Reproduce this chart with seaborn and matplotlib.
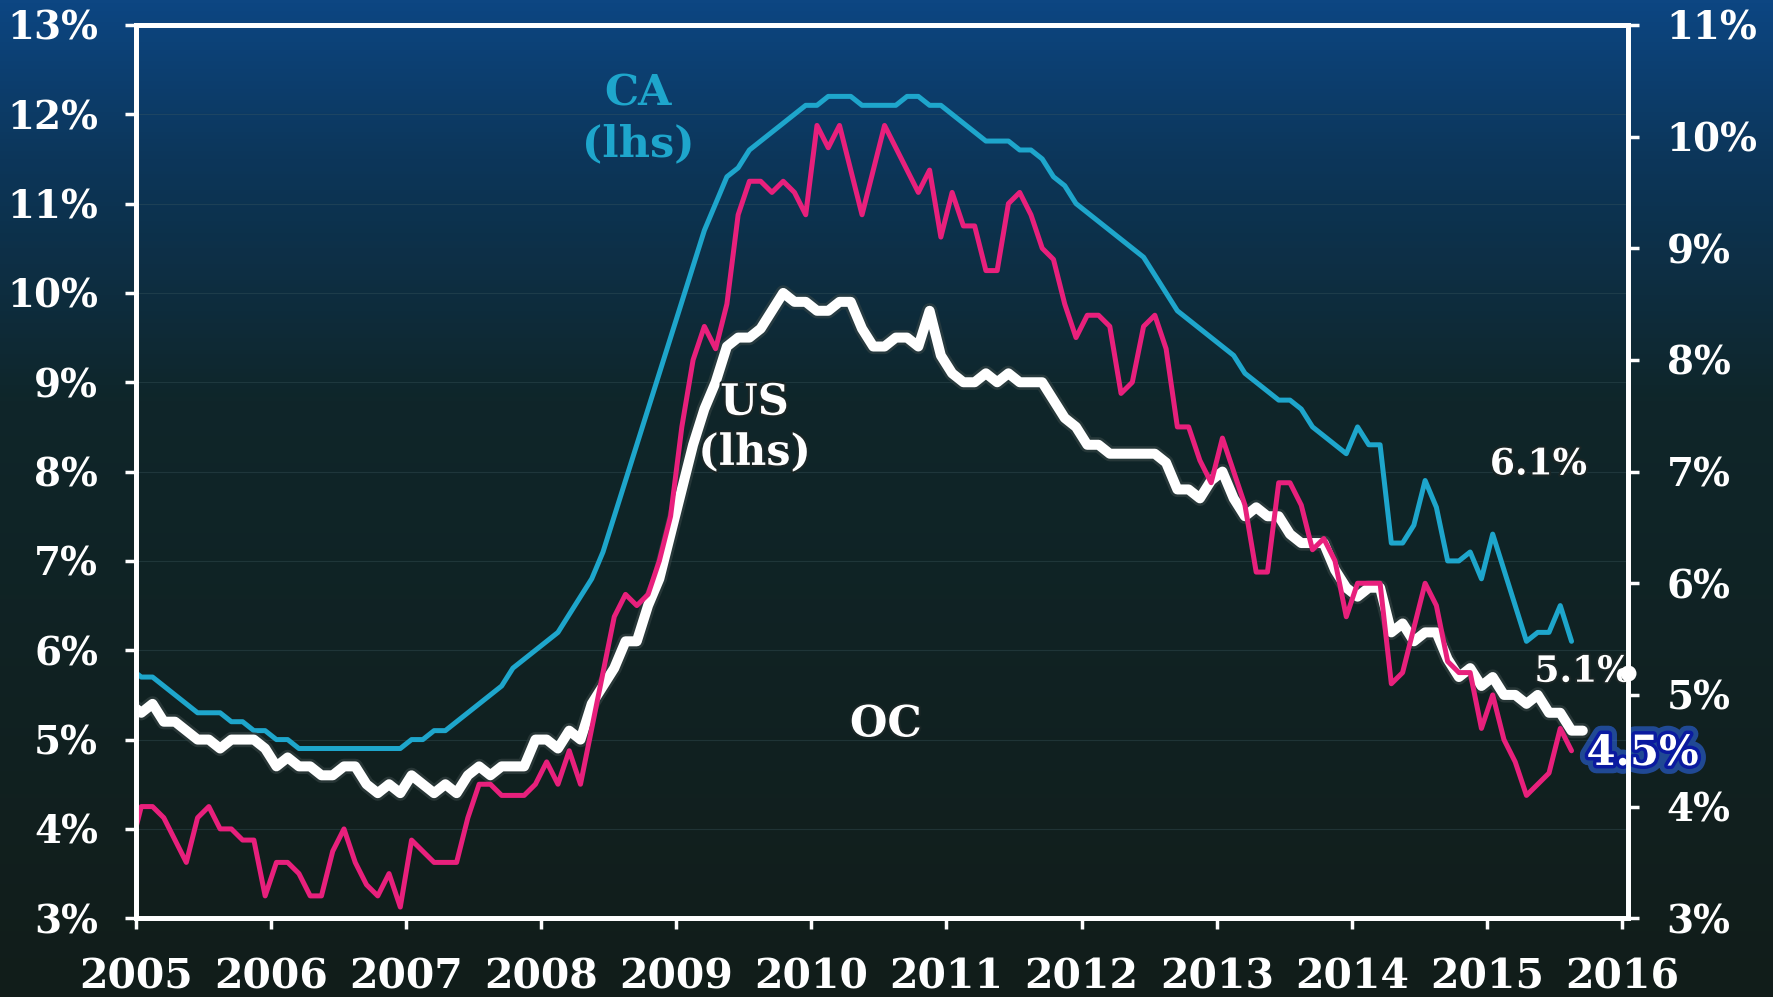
import numpy as np
import pandas as pd
import matplotlib
matplotlib.use("Agg")
import matplotlib.pyplot as plt
import matplotlib.patheffects as pe
from matplotlib.colors import LinearSegmentedColormap
import seaborn as sns

# monthly unemployment rates (%), first value is Dec 2004
ca_rate = [5.8,
    5.7, 5.7, 5.6, 5.5, 5.4, 5.3, 5.3, 5.3, 5.2, 5.2, 5.1, 5.1,
    5.0, 5.0, 4.9, 4.9, 4.9, 4.9, 4.9, 4.9, 4.9, 4.9, 4.9, 4.9,
    5.0, 5.0, 5.1, 5.1, 5.2, 5.3, 5.4, 5.5, 5.6, 5.8, 5.9, 6.0,
    6.1, 6.2, 6.4, 6.6, 6.8, 7.1, 7.5, 7.9, 8.3, 8.7, 9.1, 9.5,
    9.9, 10.3, 10.7, 11.0, 11.3, 11.4, 11.6, 11.7, 11.8, 11.9, 12.0, 12.1,
    12.1, 12.2, 12.2, 12.2, 12.1, 12.1, 12.1, 12.1, 12.2, 12.2, 12.1, 12.1,
    12.0, 11.9, 11.8, 11.7, 11.7, 11.7, 11.6, 11.6, 11.5, 11.3, 11.2, 11.0,
    10.9, 10.8, 10.7, 10.6, 10.5, 10.4, 10.2, 10.0, 9.8, 9.7, 9.6, 9.5,
    9.4, 9.3, 9.1, 9.0, 8.9, 8.8, 8.8, 8.7, 8.5, 8.4, 8.3, 8.2,
    8.5, 8.3, 8.3, 7.2, 7.2, 7.4, 7.9, 7.6, 7.0, 7.0, 7.1, 6.8,
    7.3, 6.9, 6.5, 6.1, 6.2, 6.2, 6.5, 6.1]

us_rate = [5.4,
    5.3, 5.4, 5.2, 5.2, 5.1, 5.0, 5.0, 4.9, 5.0, 5.0, 5.0, 4.9,
    4.7, 4.8, 4.7, 4.7, 4.6, 4.6, 4.7, 4.7, 4.5, 4.4, 4.5, 4.4,
    4.6, 4.5, 4.4, 4.5, 4.4, 4.6, 4.7, 4.6, 4.7, 4.7, 4.7, 5.0,
    5.0, 4.9, 5.1, 5.0, 5.4, 5.6, 5.8, 6.1, 6.1, 6.5, 6.8, 7.3,
    7.8, 8.3, 8.7, 9.0, 9.4, 9.5, 9.5, 9.6, 9.8, 10.0, 9.9, 9.9,
    9.8, 9.8, 9.9, 9.9, 9.6, 9.4, 9.4, 9.5, 9.5, 9.4, 9.8, 9.3,
    9.1, 9.0, 9.0, 9.1, 9.0, 9.1, 9.0, 9.0, 9.0, 8.8, 8.6, 8.5,
    8.3, 8.3, 8.2, 8.2, 8.2, 8.2, 8.2, 8.1, 7.8, 7.8, 7.7, 7.9,
    8.0, 7.7, 7.5, 7.6, 7.5, 7.5, 7.3, 7.2, 7.2, 7.2, 6.9, 6.7,
    6.6, 6.7, 6.7, 6.2, 6.3, 6.1, 6.2, 6.2, 5.9, 5.7, 5.8, 5.6,
    5.7, 5.5, 5.5, 5.4, 5.5, 5.3, 5.3, 5.1, 5.1]

oc_rate = [3.6,
    4.0, 4.0, 3.9, 3.7, 3.5, 3.9, 4.0, 3.8, 3.8, 3.7, 3.7, 3.2,
    3.5, 3.5, 3.4, 3.2, 3.2, 3.6, 3.8, 3.5, 3.3, 3.2, 3.4, 3.1,
    3.7, 3.6, 3.5, 3.5, 3.5, 3.9, 4.2, 4.2, 4.1, 4.1, 4.1, 4.2,
    4.4, 4.2, 4.5, 4.2, 4.7, 5.2, 5.7, 5.9, 5.8, 5.9, 6.2, 6.6,
    7.4, 8.0, 8.3, 8.1, 8.5, 9.3, 9.6, 9.6, 9.5, 9.6, 9.5, 9.3,
    10.1, 9.9, 10.1, 9.7, 9.3, 9.7, 10.1, 9.9, 9.7, 9.5, 9.7, 9.1,
    9.5, 9.2, 9.2, 8.8, 8.8, 9.4, 9.5, 9.3, 9.0, 8.9, 8.5, 8.2,
    8.4, 8.4, 8.3, 7.7, 7.8, 8.3, 8.4, 8.1, 7.4, 7.4, 7.1, 6.9,
    7.3, 7.0, 6.7, 6.1, 6.1, 6.9, 6.9, 6.7, 6.3, 6.4, 6.2, 5.7,
    6.0, 6.0, 6.0, 5.1, 5.2, 5.6, 6.0, 5.8, 5.3, 5.2, 5.2, 4.7,
    5.0, 4.6, 4.4, 4.1, 4.2, 4.3, 4.7, 4.5]

years = list(range(2005, 2017))
left_ticks = list(range(3, 14))
right_ticks = list(range(3, 12))

CA_COLOR = "#1ea6cc"
OC_COLOR = "#e8207c"
SERIF = "DejaVu Serif"


def monthly_frame(values):
    """Puts a monthly series (starting Dec 2004) on a mid-month decimal-year axis."""
    n = len(values)
    t = 2004 + 11.5 / 12 + np.arange(n) / 12
    return pd.DataFrame({"year": t, "rate": values})


def add_background(fig):
    """Blue-to-black slide gradient behind everything."""
    bg = fig.add_axes([0, 0, 1, 1], zorder=-10)
    cmap = LinearSegmentedColormap.from_list(
        "slide", [(0, "#0d4682"), (0.16, "#0c365a"), (0.40, "#0f262a"), (1, "#121d1a")])
    grad = np.linspace(0, 1, 256).reshape(-1, 1)
    bg.imshow(grad, aspect="auto", cmap=cmap, extent=[0, 1, 0, 1], origin="upper")
    bg.axis("off")


def style_axis(ax, side):
    for sp in ax.spines.values():
        sp.set_color("white")
        sp.set_linewidth(3.5)
    ax.tick_params(axis="y", colors="white", direction="out", length=8, width=2.5,
                   labelsize=28, pad=19 if side == "left" else 20)
    for lab in ax.get_yticklabels():
        lab.set_fontweight("bold")
        lab.set_fontfamily(SERIF)


def main():
    sns.set_theme(style="ticks")
    plt.rcParams["font.family"] = [SERIF, "DejaVu Sans"]

    fig = plt.figure(figsize=(17.73, 9.97), dpi=100)
    add_background(fig)

    ax = fig.add_axes([0.0765, 0.079, 0.8415, 0.896])
    ax.patch.set_alpha(0)
    ax2 = ax.twinx()
    ax2.patch.set_alpha(0)

    # faint horizontal rules
    for v in left_ticks[1:-1]:
        ax.axhline(v, color="#3d5a60", lw=0.8, alpha=0.35, zorder=0)

    ca = monthly_frame(ca_rate)
    us = monthly_frame(us_rate)
    oc = monthly_frame(oc_rate)

    sns.lineplot(data=ca, x="year", y="rate", ax=ax, color=CA_COLOR, linewidth=3.6)
    sns.lineplot(data=us, x="year", y="rate", ax=ax, color="white", linewidth=7.2,
                 solid_capstyle="round",
                 path_effects=[pe.Stroke(linewidth=11, foreground="#3a4848", alpha=0.55), pe.Normal()])
    sns.lineplot(data=oc, x="year", y="rate", ax=ax2, color=OC_COLOR, linewidth=3.6)

    ax.set_xlim(2005, 2016.04)
    ax.set_ylim(3, 13)
    ax2.set_ylim(3, 11)
    ax.set_xticks(years)
    ax.set_xticklabels([str(y) for y in years], fontsize=29.5, fontweight="bold",
                       fontfamily=SERIF, color="white")
    ax.tick_params(axis="x", colors="white", direction="out", length=8, width=2.5, pad=20)
    ax.set_yticks(left_ticks)
    ax.set_yticklabels([f"{v}%" for v in left_ticks])
    ax2.set_yticks(right_ticks)
    ax2.set_yticklabels([f"{v}%" for v in right_ticks])
    style_axis(ax, "left")
    style_axis(ax2, "right")
    ax.set_xlabel("")
    ax.set_ylabel("")
    ax2.set_ylabel("")
    ax.grid(False)
    ax2.grid(False)

    halo = [pe.withStroke(linewidth=3, foreground="#1a2626")]
    kw = dict(fontfamily=SERIF, fontweight="bold", ha="center", va="center")
    ax.text(2008.72, 11.95, "CA\n(lhs)", color=CA_COLOR, fontsize=31, linespacing=1.25, **kw)
    ax.text(2009.58, 8.49, "US\n(lhs)", color="white", fontsize=31, linespacing=1.25,
            path_effects=halo, **kw)
    ax.text(2010.55, 5.17, "OC", color="white", fontsize=31, path_effects=halo, **kw)
    ax.text(2015.38, 8.08, "6.1%", color="white", fontsize=26, path_effects=halo, **kw)
    ax.text(2015.71, 5.76, "5.1%", color="white", fontsize=26, path_effects=halo, **kw)
    # small white dot where the 5.1% callout touches the right axis
    ax.scatter([ax.get_xlim()[1]], [5.74], s=110, color="white", zorder=6, clip_on=False)
    ax.text(2016.15, 4.85, "4.5%", color="white", fontsize=30, clip_on=False, zorder=7,
            path_effects=[pe.Stroke(linewidth=12, foreground="#2f6cf5", alpha=0.55),
                          pe.Stroke(linewidth=5, foreground="#0a1aa0"), pe.Normal()], **kw)

    fig.savefig("out.png", dpi=100, facecolor=fig.get_facecolor())
    print("saved out.png")


if __name__ == "__main__":
    main()
